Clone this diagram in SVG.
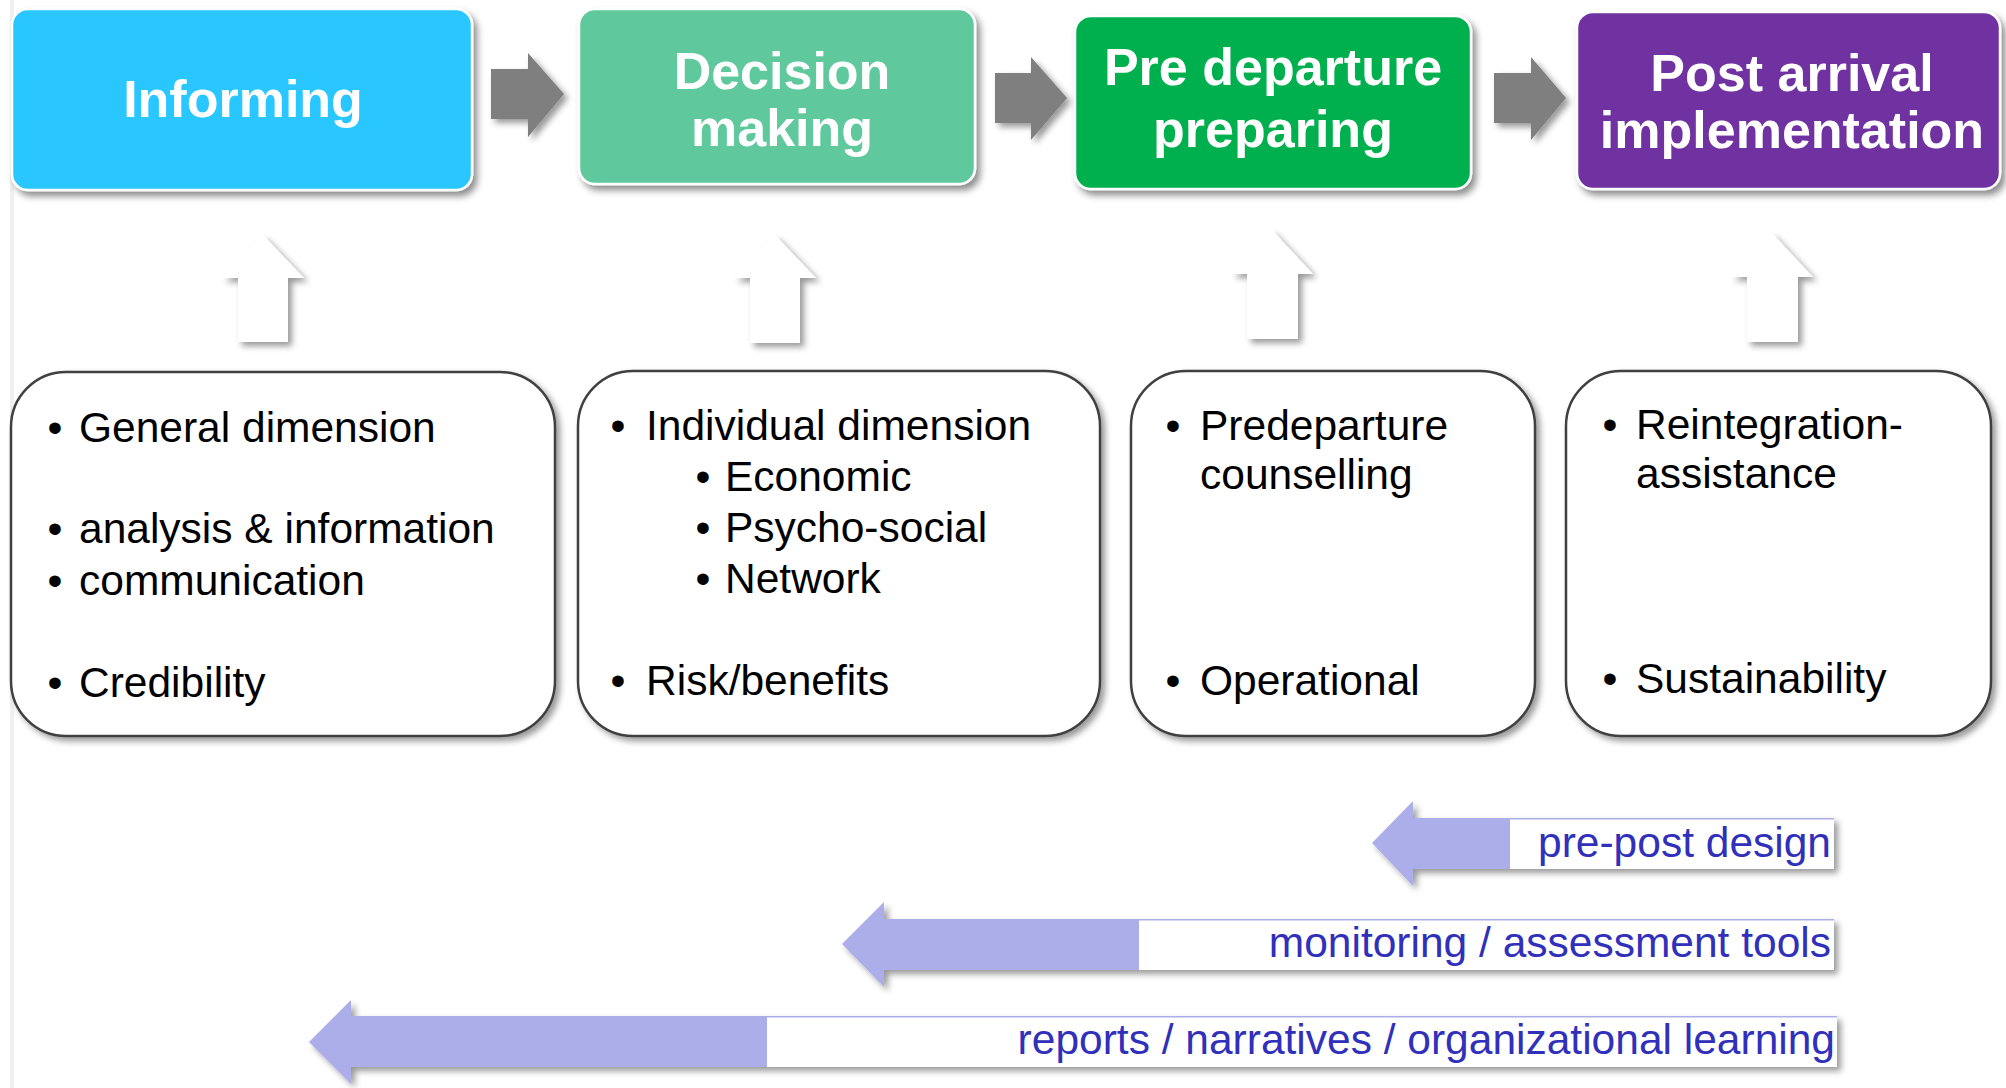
<svg xmlns="http://www.w3.org/2000/svg" width="2006" height="1088" viewBox="0 0 2006 1088">
<defs>
<filter id="sh" x="-10%" y="-10%" width="125%" height="130%">
<feGaussianBlur in="SourceAlpha" stdDeviation="3.5"/>
<feOffset dx="4" dy="5" result="o"/>
<feFlood flood-color="#000" flood-opacity="0.45"/>
<feComposite in2="o" operator="in"/>
<feMerge><feMergeNode/><feMergeNode in="SourceGraphic"/></feMerge>
</filter>
<filter id="sh2" x="-10%" y="-10%" width="125%" height="130%">
<feGaussianBlur in="SourceAlpha" stdDeviation="3"/>
<feOffset dx="4" dy="4" result="o"/>
<feFlood flood-color="#000" flood-opacity="0.4"/>
<feComposite in2="o" operator="in"/>
<feMerge><feMergeNode/><feMergeNode in="SourceGraphic"/></feMerge>
</filter>
</defs>
<style>
.top{stroke:#fff;stroke-width:2.5;filter:url(#sh)}
.tt{font-family:"Liberation Sans",Arial,sans-serif;font-weight:bold;font-size:52px;fill:#fff;text-anchor:middle}
.box{fill:#fff;stroke:#404040;stroke-width:2.5;filter:url(#sh2)}
.bt{font-family:"Liberation Sans",Arial,sans-serif;font-size:42.5px;fill:#000}
.bul{font-family:"Liberation Sans",Arial,sans-serif;font-size:42.5px;fill:#000;text-anchor:middle}
.garrow{fill:#7f7f7f;filter:url(#sh2)}
.uarrow{fill:#fff;filter:url(#sh2)}
.lav{fill:#acaeea}
.lt{font-family:"Liberation Sans",Arial,sans-serif;font-size:42.5px;fill:#3030bb;text-anchor:end}
</style>
<rect x="0" y="0" width="2006" height="1088" fill="#fff"/>
<line x1="12" y1="0" x2="12" y2="1088" stroke="#f0f0f0" stroke-width="4"/>

<g id="informing">
<rect class="top" x="12" y="9" width="460" height="181" rx="16" fill="#29c6ff"/>
<text class="tt" x="243" y="117">Informing</text>
</g>
<g id="decision-making">
<rect class="top" x="579" y="9" width="396" height="175" rx="16" fill="#5fc89c"/>
<text class="tt" x="782" y="89">Decision</text>
<text class="tt" x="782" y="146">making</text>
</g>
<g id="pre-departure">
<rect class="top" x="1075" y="16" width="396" height="173" rx="16" fill="#00b050"/>
<text class="tt" x="1273" y="85">Pre departure</text>
<text class="tt" x="1273" y="147">preparing</text>
</g>
<g id="post-arrival">
<rect class="top" x="1577" y="12" width="423" height="177" rx="16" fill="#7030a0"/>
<text class="tt" x="1792" y="91">Post arrival</text>
<text class="tt" x="1792" y="148">implementation</text>
</g>

<g id="connectors">
<polygon class="garrow" points="491,69 528,69 528,53 564,94 528,137 528,119 491,119"/>
<polygon class="garrow" points="995,73 1031,73 1031,57 1067,98 1031,140 1031,123 995,123"/>
<polygon class="garrow" points="1494,73 1531,73 1531,57 1566,98 1531,140 1531,123 1494,123"/>
<polygon class="uarrow" points="263,235 304,278 288,278 288,342 238,342 238,278 222,278"/>
<polygon class="uarrow" points="775,235 816,278 800,278 800,343 750,343 750,278 734,278"/>
<polygon class="uarrow" points="1272,230 1313,274 1298,274 1298,339 1247,339 1247,274 1231,274"/>
<polygon class="uarrow" points="1772,233 1813,277 1798,277 1798,342 1747,342 1747,277 1731,277"/>
</g>

<g id="box-general">
<rect class="box" x="11" y="372" width="544" height="364" rx="55"/>
<text class="bul" x="55" y="442">•</text><text class="bt" x="79" y="442">General dimension</text>
<text class="bul" x="55" y="543">•</text><text class="bt" x="79" y="543">analysis &amp; information</text>
<text class="bul" x="55" y="595">•</text><text class="bt" x="79" y="595">communication</text>
<text class="bul" x="55" y="697">•</text><text class="bt" x="79" y="697">Credibility</text>
</g>
<g id="box-individual">
<rect class="box" x="578" y="371" width="522" height="365" rx="55"/>
<text class="bul" x="618" y="440">•</text><text class="bt" x="646" y="440">Individual dimension</text>
<text class="bul" x="703" y="491">•</text><text class="bt" x="725" y="491">Economic</text>
<text class="bul" x="703" y="542">•</text><text class="bt" x="725" y="542">Psycho-social</text>
<text class="bul" x="703" y="593">•</text><text class="bt" x="725" y="593">Network</text>
<text class="bul" x="618" y="695">•</text><text class="bt" x="646" y="695">Risk/benefits</text>
</g>
<g id="box-predeparture">
<rect class="box" x="1131" y="371" width="404" height="365" rx="55"/>
<text class="bul" x="1173" y="440">•</text><text class="bt" x="1200" y="440">Predeparture</text>
<text class="bt" x="1200" y="489">counselling</text>
<text class="bul" x="1173" y="695">•</text><text class="bt" x="1200" y="695">Operational</text>
</g>
<g id="box-reintegration">
<rect class="box" x="1566" y="371" width="425" height="365" rx="55"/>
<text class="bul" x="1610" y="439">•</text><text class="bt" x="1636" y="439">Reintegration-</text>
<text class="bt" x="1636" y="488">assistance</text>
<text class="bul" x="1610" y="693">•</text><text class="bt" x="1636" y="693">Sustainability</text>
</g>

<g id="arrow-prepost">
<g filter="url(#sh2)">
<polygon class="lav" points="1372,843 1413,801 1413,818 1834,818 1834,869 1413,869 1413,886"/>
<rect x="1510" y="819.5" width="324" height="49.5" fill="#fff"/>
</g>
<text class="lt" x="1831" y="857">pre-post design</text>
</g>
<g id="arrow-monitoring">
<g filter="url(#sh2)">
<polygon class="lav" points="842,944 884,902 884,919 1834,919 1834,970 884,970 884,987"/>
<rect x="1139" y="920.5" width="695" height="49.5" fill="#fff"/>
</g>
<text class="lt" x="1831" y="957">monitoring / assessment tools</text>
</g>
<g id="arrow-reports">
<g filter="url(#sh2)">
<polygon class="lav" points="309,1042 351,1000 351,1016 1837,1016 1837,1067 351,1067 351,1084"/>
<rect x="767" y="1017.5" width="1070" height="49.5" fill="#fff"/>
</g>
<text class="lt" x="1835" y="1054">reports / narratives / organizational learning</text>
</g>
</svg>
